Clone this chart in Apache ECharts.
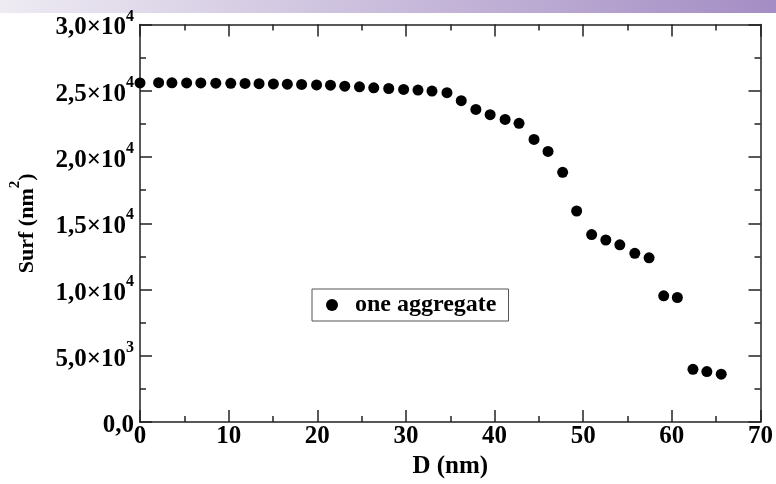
<!DOCTYPE html>
<html>
<head>
<meta charset="utf-8">
<script src="https://cdn.jsdelivr.net/npm/echarts@6/dist/echarts.min.js"></script>
<style>
html,body{margin:0;padding:0;background:#fff;}
#c{width:776px;height:484px;}
</style>
</head>
<body>
<div id="c"></div>
<script>
// Data
const dValues = [0, 2.1, 3.6, 5.26, 6.86, 8.55, 10.24, 11.85, 13.43, 15.05, 16.62, 18.23, 19.92, 21.49, 23.1, 24.76, 26.37, 28.06, 29.74, 31.36, 32.94, 34.63, 36.24, 37.89, 39.5, 41.19, 42.76, 44.45, 46.03, 47.68, 49.26, 50.95, 52.55, 54.13, 55.82, 57.43, 59.08, 60.62, 62.38, 63.95, 65.57];
const surfValues = [25590, 25610, 25600, 25590, 25590, 25570, 25565, 25550, 25535, 25514, 25500, 25477, 25440, 25420, 25346, 25295, 25222, 25170, 25097, 25054, 24981, 24857, 24251, 23594, 23199, 22834, 22542, 21331, 20425, 18849, 15929, 14147, 13739, 13374, 12739, 12395, 9527, 9402, 3979, 3811, 3614];
const seriesName = 'one aggregate';
const xTitle = 'D (nm)';
const yTitle = ['Surf (nm', '2', ')'];
const xTicks = { min: 0, max: 70, step: 10 };
const yTicks = { min: 0, max: 30000, step: 5000 };

const FONT = '"Liberation Serif", "Times New Roman", serif';

function yLabel(v) {
  if (v === 0) return '{a|0,0}';
  let exp = Math.floor(Math.log10(v));
  let mant = v / Math.pow(10, exp);
  return '{a|' + mant.toFixed(1).replace('.', ',') + '×10}{b|' + exp + '}';
}

const chart = echarts.init(document.getElementById('c'), null, { renderer: 'canvas' });

const axisLineStyle = { color: '#222', width: 1.5 };
const tickCommon = {
  axisLine: { show: true, lineStyle: axisLineStyle, onZero: false },
  axisTick: { show: true, inside: true, length: 12, lineStyle: axisLineStyle },
  minorTick: { show: true, splitNumber: 2, length: 6, lineStyle: { color: '#222', width: 1.5 } },
  splitLine: { show: false },
  minorSplitLine: { show: false }
};

chart.setOption({
  animation: false,
  backgroundColor: '#fff',
  graphic: [
    {
      type: 'rect',
      shape: { x: 0, y: 0, width: 776, height: 13 },
      style: {
        fill: new echarts.graphic.LinearGradient(0, 0, 1, 0, [
          { offset: 0, color: '#eeebf3' },
          { offset: 1, color: '#a48dc4' }
        ])
      },
      silent: true,
      z: -1
    }
  ],
  grid: { left: 139, right: 15, top: 24.5, bottom: 48.5, containLabel: false },
  legend: {
    data: [seriesName],
    left: 312,
    top: 289,
    orient: 'horizontal',
    borderColor: '#555',
    borderWidth: 1,
    padding: [4, 12, 4, 14],
    itemWidth: 12,
    itemHeight: 12,
    itemGap: 10,
    icon: 'circle',
    borderRadius: 0,
    textStyle: { fontFamily: FONT, fontWeight: 'bold', fontSize: 24, color: '#000', padding: [0, 0, 0, 12] }
  },
  xAxis: [
    Object.assign({
      type: 'value', position: 'bottom',
      min: xTicks.min, max: xTicks.max, interval: xTicks.step,
      name: xTitle, nameLocation: 'middle', nameGap: 29,
      nameTextStyle: { fontFamily: FONT, fontWeight: 'bold', fontSize: 25, color: '#000' },
      axisLabel: { show: true, margin: 2, fontFamily: FONT, fontWeight: 'bold', fontSize: 25, color: '#000' }
    }, tickCommon),
    Object.assign({
      type: 'value', position: 'top',
      min: xTicks.min, max: xTicks.max, interval: xTicks.step,
      axisLabel: { show: false }
    }, tickCommon)
  ],
  yAxis: [
    Object.assign({
      type: 'value', position: 'left',
      min: yTicks.min, max: yTicks.max, interval: yTicks.step,
      name: '{a|' + yTitle[0] + '}{b|' + yTitle[1] + '}{a|' + yTitle[2] + '}',
      nameLocation: 'middle', nameGap: 102,
      nameTextStyle: {
        fontFamily: FONT, fontWeight: 'bold', fontSize: 22, color: '#000',
        rich: {
          a: { fontFamily: FONT, fontWeight: 'bold', fontSize: 22, color: '#000', lineHeight: 30, verticalAlign: 'bottom' },
          b: { fontFamily: FONT, fontWeight: 'bold', fontSize: 15, color: '#000', lineHeight: 30, verticalAlign: 'top' }
        }
      },
      axisLabel: {
        show: true, margin: 6,
        formatter: yLabel,
        rich: {
          a: { fontFamily: FONT, fontWeight: 'bold', fontSize: 25, color: '#000', lineHeight: 32, verticalAlign: 'bottom' },
          b: { fontFamily: FONT, fontWeight: 'bold', fontSize: 16, color: '#000', lineHeight: 32, verticalAlign: 'top' }
        }
      }
    }, tickCommon),
    Object.assign({
      type: 'value', position: 'right',
      min: yTicks.min, max: yTicks.max, interval: yTicks.step,
      axisLabel: { show: false }
    }, tickCommon)
  ],
  series: [
    {
      name: seriesName,
      type: 'scatter',
      xAxisIndex: 0, yAxisIndex: 0,
      symbol: 'circle',
      symbolSize: 11,
      itemStyle: { color: '#000', opacity: 1 },
      data: dValues.map((d, i) => [d, surfValues[i]]),
      z: 3
    }
  ]
});
</script>
</body>
</html>
